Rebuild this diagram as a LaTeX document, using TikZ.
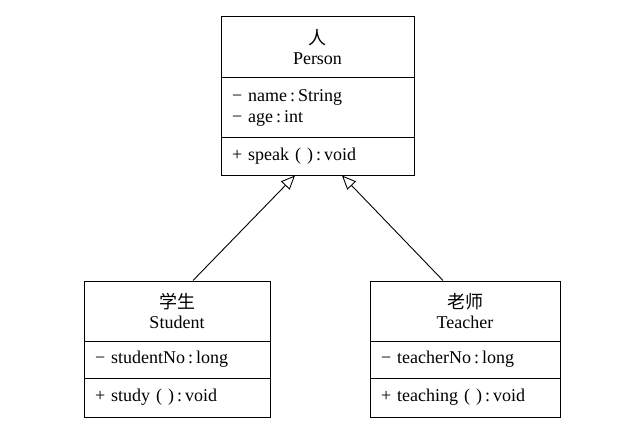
\documentclass[tikz,border=0pt]{standalone}
\usepackage{fontspec}
\setmainfont{Liberation Serif}
\newfontfamily\cjk{Noto Sans CJK SC}
\usetikzlibrary{arrows.meta}

\begin{document}
\begin{tikzpicture}[x=1pt,y=-1pt,
  classhead/.style={rectangle,draw,line width=1pt,inner xsep=0pt,inner ysep=0pt,
    align=center,font=\fontsize{18}{20}\selectfont},
  classbody/.style={rectangle,draw,line width=1pt,inner xsep=11pt,inner ysep=0pt,
    align=left,font=\fontsize{18}{21}\selectfont},
  inherit/.style={line width=0.9pt,-{Triangle[open,length=14pt,width=12pt,line width=0.9pt]}}]
\useasboundingbox (0,0) rectangle (627,428);

% Person
\path (317.5,47.5) node[classhead,text width=193pt,minimum height=61pt] (personname) {{\cjk 人}\\Person};
\path (317.5,107.5) node[classbody,text width=171pt,minimum height=59pt] (personattr) {− name\,:\,String\\− age\,:\,int};
\path (317.5,156) node[classbody,text width=171pt,minimum height=38pt] (personops) {+ speak ( )\,:\,void};

% Student
\path (177,311) node[classhead,text width=186pt,minimum height=60pt] (studentname) {{\cjk 学生}\\Student};
\path (177,359.5) node[classbody,text width=164pt,minimum height=37pt] (studentattr) {− studentNo\,:\,long};
\path (177,397.5) node[classbody,text width=164pt,minimum height=39pt] (studentops) {+ study ( )\,:\,void};

% Teacher
\path (465,311) node[classhead,text width=190pt,minimum height=60pt] (teachername) {{\cjk 老师}\\Teacher};
\path (465,359.5) node[classbody,text width=168pt,minimum height=37pt] (teacherattr) {− teacherNo\,:\,long};
\path (465,397.5) node[classbody,text width=168pt,minimum height=39pt] (teacherops) {+ teaching ( )\,:\,void};

% generalisation
\draw[inherit] ([xshift=16pt]studentname.north) -- ([xshift=-22.5pt]personops.south);
\draw[inherit] ([xshift=-22pt]teachername.north) -- ([xshift=24.5pt]personops.south);
\end{tikzpicture}
\end{document}
